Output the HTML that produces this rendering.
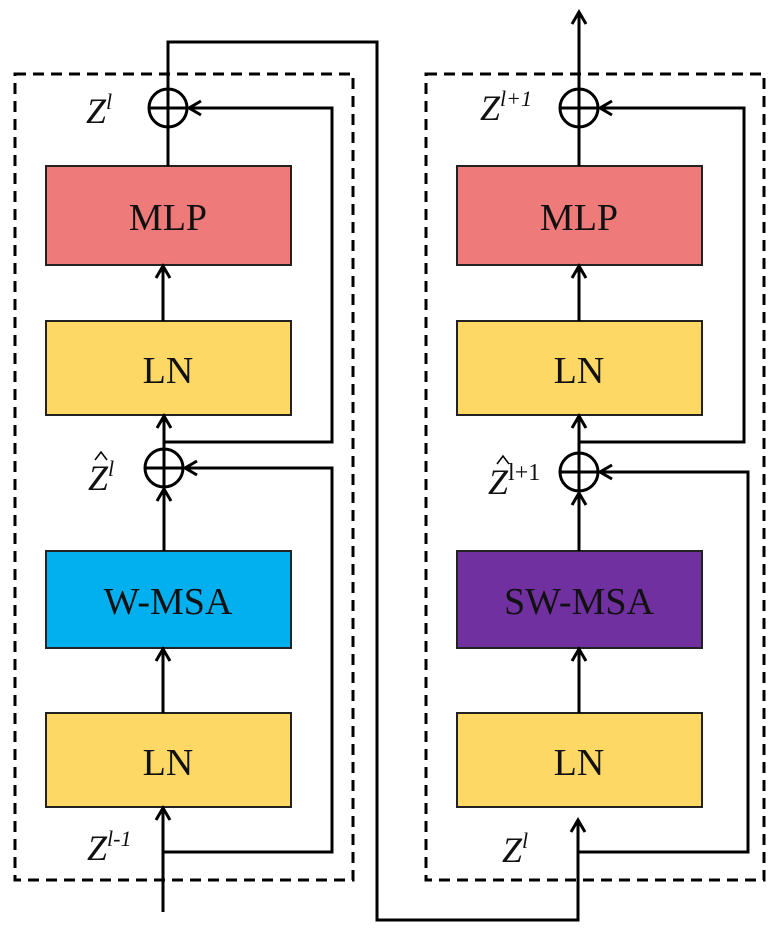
<!DOCTYPE html>
<html><head><style>body{margin:0;background:#fff}svg{display:block}text{font-family:"Liberation Serif",serif}</style></head><body>
<svg width="778" height="936" viewBox="0 0 778 936" xmlns="http://www.w3.org/2000/svg">
<defs><marker id="a" markerWidth="18" markerHeight="18" refX="14" refY="9" orient="auto" markerUnits="userSpaceOnUse"><path d="M2,2 L14,9 L2,16" fill="none" stroke="#000" stroke-width="3"/></marker></defs>
<g fill="none" stroke="#000" stroke-width="3" stroke-dasharray="11,7">
<rect x="15" y="74" width="338" height="806"/>
<rect x="426" y="74" width="338" height="806"/>
</g>
<g stroke="#222" stroke-width="2">
<rect x="46" y="166" width="245" height="99" fill="#ef7a7a"/>
<rect x="46" y="321" width="245" height="94" fill="#fdd865"/>
<rect x="46" y="551" width="245" height="97" fill="#02b0f0"/>
<rect x="46" y="713" width="245" height="94" fill="#fdd865"/>
<rect x="457" y="166" width="245" height="99" fill="#ef7a7a"/>
<rect x="457" y="321" width="245" height="94" fill="#fdd865"/>
<rect x="457" y="551" width="245" height="97" fill="#7030a0"/>
<rect x="457" y="713" width="245" height="94" fill="#fdd865"/>
</g>
<g font-size="38" text-anchor="middle" fill="#111">
<text x="168" y="230">MLP</text><text x="168" y="383">LN</text><text x="168" y="614">W-MSA</text><text x="168" y="775">LN</text>
<text x="579" y="230">MLP</text><text x="579" y="383">LN</text><text x="579" y="614">SW-MSA</text><text x="579" y="775">LN</text>
</g>
<g fill="none" stroke="#000" stroke-width="3">
<circle cx="168" cy="108" r="19"/><line x1="149" y1="108" x2="187" y2="108"/>
<circle cx="164" cy="468" r="19"/><line x1="145" y1="468" x2="183" y2="468"/><line x1="164" y1="449" x2="164" y2="487"/>
<circle cx="579" cy="108" r="19"/><line x1="560" y1="108" x2="598" y2="108"/>
<circle cx="579" cy="472" r="19"/><line x1="560" y1="472" x2="598" y2="472"/><line x1="579" y1="453" x2="579" y2="491"/>
<path d="M168,166 V42 H377 V920 H578 V820" marker-end="url(#a)"/>
<path d="M163,912 V808" marker-end="url(#a)"/>
<path d="M163,852 H332 V468 H185" marker-end="url(#a)"/>
<path d="M164,442 H332 V108 H189" marker-end="url(#a)"/>
<path d="M163,713 V649" marker-end="url(#a)"/>
<path d="M164,551 V489" marker-end="url(#a)"/>
<path d="M164,449 V416" marker-end="url(#a)"/>
<path d="M163,321 V266" marker-end="url(#a)"/>
<path d="M579,166 V12" marker-end="url(#a)"/>
<path d="M579,321 V266" marker-end="url(#a)"/>
<path d="M579,453 V416" marker-end="url(#a)"/>
<path d="M579,442 H744 V108 H600" marker-end="url(#a)"/>
<path d="M579,551 V493" marker-end="url(#a)"/>
<path d="M579,713 V649" marker-end="url(#a)"/>
<path d="M579,852 H748 V472 H600" marker-end="url(#a)"/>
</g>
<g fill="none" stroke="#000" stroke-width="1.5">
<path d="M95,460 L101,452 L107,460"/>
<path d="M497,464 L503,456 L509,464"/>
</g>
<g font-size="36" font-style="italic" fill="#111">
<text x="86" y="123">Z<tspan font-size="22" dy="-14">l</tspan></text>
<text x="88" y="490">Z<tspan font-size="22" dy="-14">l</tspan></text>
<text x="480" y="120">Z<tspan font-size="22" dy="-14">l+1</tspan></text>
<text x="488" y="494">Z<tspan font-size="24" dy="-14" font-style="normal">l+1</tspan></text>
<text x="87" y="860">Z<tspan font-size="22" dy="-14">l-1</tspan></text>
<text x="502" y="862">Z<tspan font-size="22" dy="-14">l</tspan></text>
</g>
</svg>
</body></html>
